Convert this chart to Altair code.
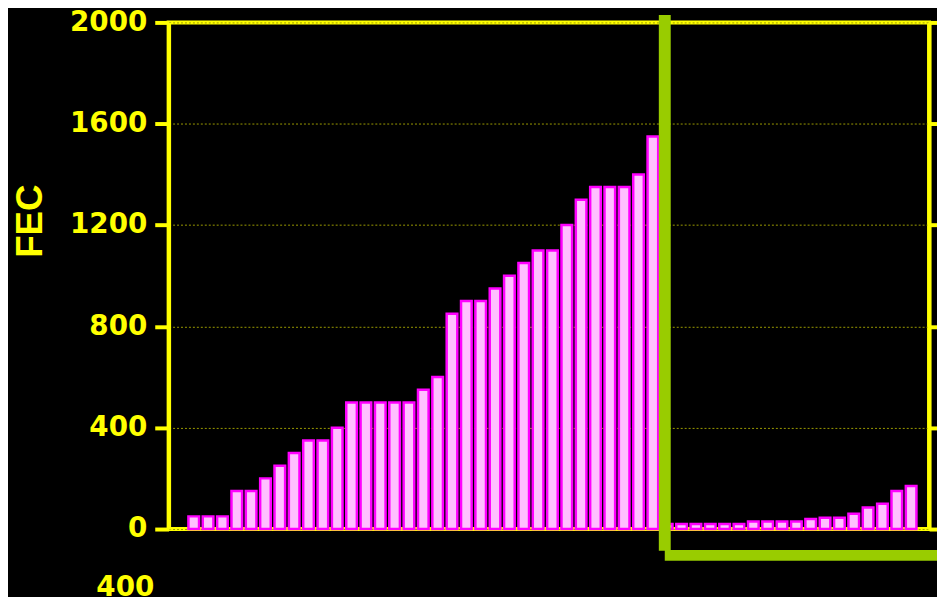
import altair as alt
import pandas as pd

# FEC values, left of and right of the green marker
fec_before = [50, 50, 50, 150, 150, 200, 250, 300, 350, 350, 400, 500, 500, 500, 500, 500,
              550, 600, 850, 900, 900, 950, 1000, 1050, 1100, 1100, 1200, 1300, 1350, 1350,
              1350, 1400, 1550]
fec_after = [20, 20, 20, 20, 20, 20, 30, 30, 30, 30, 40, 45, 45, 60, 85, 100, 150, 170]
y_ticks = [0, 400, 800, 1200, 1600, 2000]
extra_label = "400"

values = fec_before + fec_after
bars = pd.DataFrame({"i": list(range(len(values))), "fec": values})
bars["x0"] = bars["i"] - 0.37
bars["x1"] = bars["i"] + 0.37

YELLOW = "#FFFF00"
GREEN = "#99CC00"
DIGIT_FONT = "DejaVu Sans"
TITLE_FONT = "Liberation Sans Narrow, Liberation Sans, Arial, sans-serif"
X_DOMAIN = [-1.75, 51.25]
Y_DOMAIN = [0, 2000]

xs = alt.Scale(domain=X_DOMAIN, nice=False, zero=False)
ys = alt.Scale(domain=Y_DOMAIN, nice=False)

bar_layer = alt.Chart(bars).mark_bar(
    fill="#FFC0FF", stroke="#FF00FF", strokeWidth=2.5
).encode(
    x=alt.X("x0:Q", scale=xs, axis=None),
    x2="x1:Q",
    y=alt.Y("fec:Q", scale=ys, axis=alt.Axis(
        orient="left", values=y_ticks, format="d", title="FEC",
        labelFont=DIGIT_FONT, labelFontSize=28, labelFontWeight="bold", labelColor=YELLOW,
        labelPadding=8, tickColor=YELLOW, tickSize=14, tickWidth=4,
        domainColor=YELLOW, domainWidth=4,
        grid=True, gridColor="#9A9A00", gridWidth=1, gridDash=[2, 2],
        titleFont=TITLE_FONT, titleFontSize=37, titleFontWeight="bold",
        titleColor=YELLOW, titleAngle=270, titleAlign="center", titleBaseline="middle",
        titleX=-139, titleY=200,
    )),
    y2=alt.Y2(datum=0),
)

vline = pd.DataFrame({"x": [32.83], "y": [-86], "y2": [2029]})
hline = pd.DataFrame({"x": [32.83], "x2": [54], "y": [-104]})
txt = pd.DataFrame({"x": [-4.77], "y": [-233], "t": [extra_label]})

right_axis = alt.Axis(orient="right", values=y_ticks, labels=False, title=None,
                      tickColor=YELLOW, tickSize=10, tickWidth=4,
                      domainColor=YELLOW, domainWidth=4, grid=False)

v_layer = alt.Chart(vline).mark_rule(color=GREEN, strokeWidth=12).encode(
    x=alt.X("x:Q", scale=xs, axis=None),
    y=alt.Y("y:Q", scale=ys, axis=right_axis),
    y2="y2:Q",
)
h_layer = alt.Chart(hline).mark_rule(color=GREEN, strokeWidth=11).encode(
    x=alt.X("x:Q", scale=xs, axis=None),
    x2="x2:Q",
    y=alt.Y("y:Q", scale=ys, axis=right_axis),
)
t_layer = alt.Chart(txt).mark_text(
    font=DIGIT_FONT, fontSize=28, fontWeight="bold", color=YELLOW,
    align="center", baseline="middle"
).encode(
    x=alt.X("x:Q", scale=xs, axis=None),
    y=alt.Y("y:Q", scale=ys, axis=right_axis),
    text="t:N",
)

right_layers = alt.layer(v_layer, h_layer, t_layer)

chart = alt.layer(bar_layer, right_layers).resolve_scale(y="independent").resolve_axis(
    y="independent"
).properties(
    width=767, height=511,
    autosize=alt.AutoSizeParams(type="none"),
    padding={"left": 162, "top": 12, "right": 8, "bottom": 66},
    background="#000000",
).configure_view(stroke=YELLOW, strokeWidth=4)

chart.save("out.html", embed_options={"renderer": "svg", "actions": False})
